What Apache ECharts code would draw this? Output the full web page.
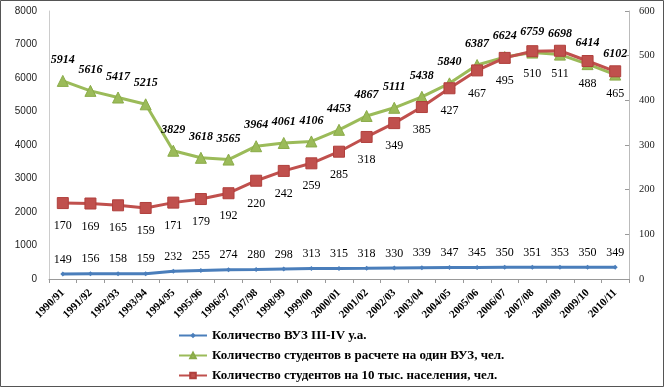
<!DOCTYPE html>
<html><head><meta charset="utf-8">
<script src="https://cdn.jsdelivr.net/npm/echarts@6/dist/echarts.min.js"></script>
<style>html,body{margin:0;padding:0;background:#fff}#c{width:664px;height:387px}</style>
</head><body><div id="c"></div>
<script>
const categories = ['1990/91','1991/92','1992/93','1993/94','1994/95','1995/96','1996/97','1997/98','1998/99','1999/00','2000/01','2001/02','2002/03','2003/04','2004/05','2005/06','2006/07','2007/08','2008/09','2009/10','2010/11'];
const vuzCount = [149,156,158,159,232,255,274,280,298,313,315,318,330,339,347,345,350,351,353,350,349];
const studentsPerVuz = [5914,5616,5417,5215,3829,3618,3565,3964,4061,4106,4453,4867,5111,5438,5840,6387,6624,6759,6698,6414,6102];
const studentsPer10k = [170,169,165,159,171,179,192,220,242,259,285,318,349,385,427,467,495,510,511,488,465];
const seriesNames = ['Количество ВУЗ III-IV у.а.','Количество студентов в расчете на один ВУЗ, чел.','Количество студентов на 10 тыс. населения, чел.'];

const serif = '"Liberation Serif","Times New Roman",serif';
const chart = echarts.init(document.getElementById('c'), null, {renderer:'canvas'});
chart.setOption({
  animation:false,
  backgroundColor:'#fff',
  graphic:[{type:'rect',shape:{x:0.5,y:0.5,width:663,height:386},style:{fill:'none',stroke:'#555',lineWidth:1}}],
  grid:{left:49,right:35,top:11,bottom:108,containLabel:false},
  legend:{
    orient:'vertical', left:178, top:329, padding:0, itemGap:7, itemWidth:28, itemHeight:7,
    textStyle:{fontFamily:serif, fontWeight:'bold', fontSize:13, color:'#000'},
    data:seriesNames
  },
  xAxis:{
    type:'category', data:categories, boundaryGap:true,
    axisLine:{lineStyle:{color:'#999'}},
    axisTick:{show:true, length:4, lineStyle:{color:'#999'}},
    axisLabel:{rotate:45, interval:0, margin:12, fontFamily:serif, fontWeight:'bold', fontSize:11, color:'#000'}
  },
  yAxis:[
    {type:'value', min:0, max:8000, interval:1000, position:'left',
     axisLine:{show:true, lineStyle:{color:'#ccc'}}, axisTick:{show:false},
     splitLine:{show:false},
     axisLabel:{margin:12, formatter:function(v){return String(v);}, fontFamily:'"Liberation Sans",Arial,sans-serif', fontSize:10, color:'#222'}},
    {type:'value', min:0, max:600, interval:100, position:'right',
     axisLine:{show:true, lineStyle:{color:'#bbb'}}, axisTick:{show:true, inside:true, length:4, lineStyle:{color:'#999'}},
     splitLine:{show:false},
     axisLabel:{margin:10, formatter:function(v){return String(v);}, fontFamily:serif, fontSize:10.5, color:'#222'}}
  ],
  series:[
    {name:seriesNames[0], type:'line', yAxisIndex:0, data:vuzCount,
     symbol:'diamond', symbolSize:5, lineStyle:{width:3,color:'#4a7ebb'}, itemStyle:{color:'#4a7ebb'},
     label:{show:true, position:'top', distance:6, fontFamily:serif, fontSize:12, color:'#000'}},
    {name:seriesNames[1], type:'line', yAxisIndex:0, data:studentsPerVuz,
     symbol:'triangle', symbolSize:11, lineStyle:{width:3,color:'#9bbb59'}, itemStyle:{color:'#9bbb59', borderColor:'#8aab48', borderWidth:1},
     label:{show:true, position:'top', distance:9, fontFamily:serif, fontSize:12, fontWeight:'bold', fontStyle:'italic', color:'#000'}},
    {name:seriesNames[2], type:'line', yAxisIndex:1, data:studentsPer10k,
     symbol:'rect', symbolSize:11, lineStyle:{width:3,color:'#c0504d'}, itemStyle:{color:'#c0504d', borderColor:'#b03f3c', borderWidth:1},
     label:{show:true, position:'bottom', distance:11, fontFamily:serif, fontSize:12, color:'#000'}}
  ]
});
</script></body></html>
